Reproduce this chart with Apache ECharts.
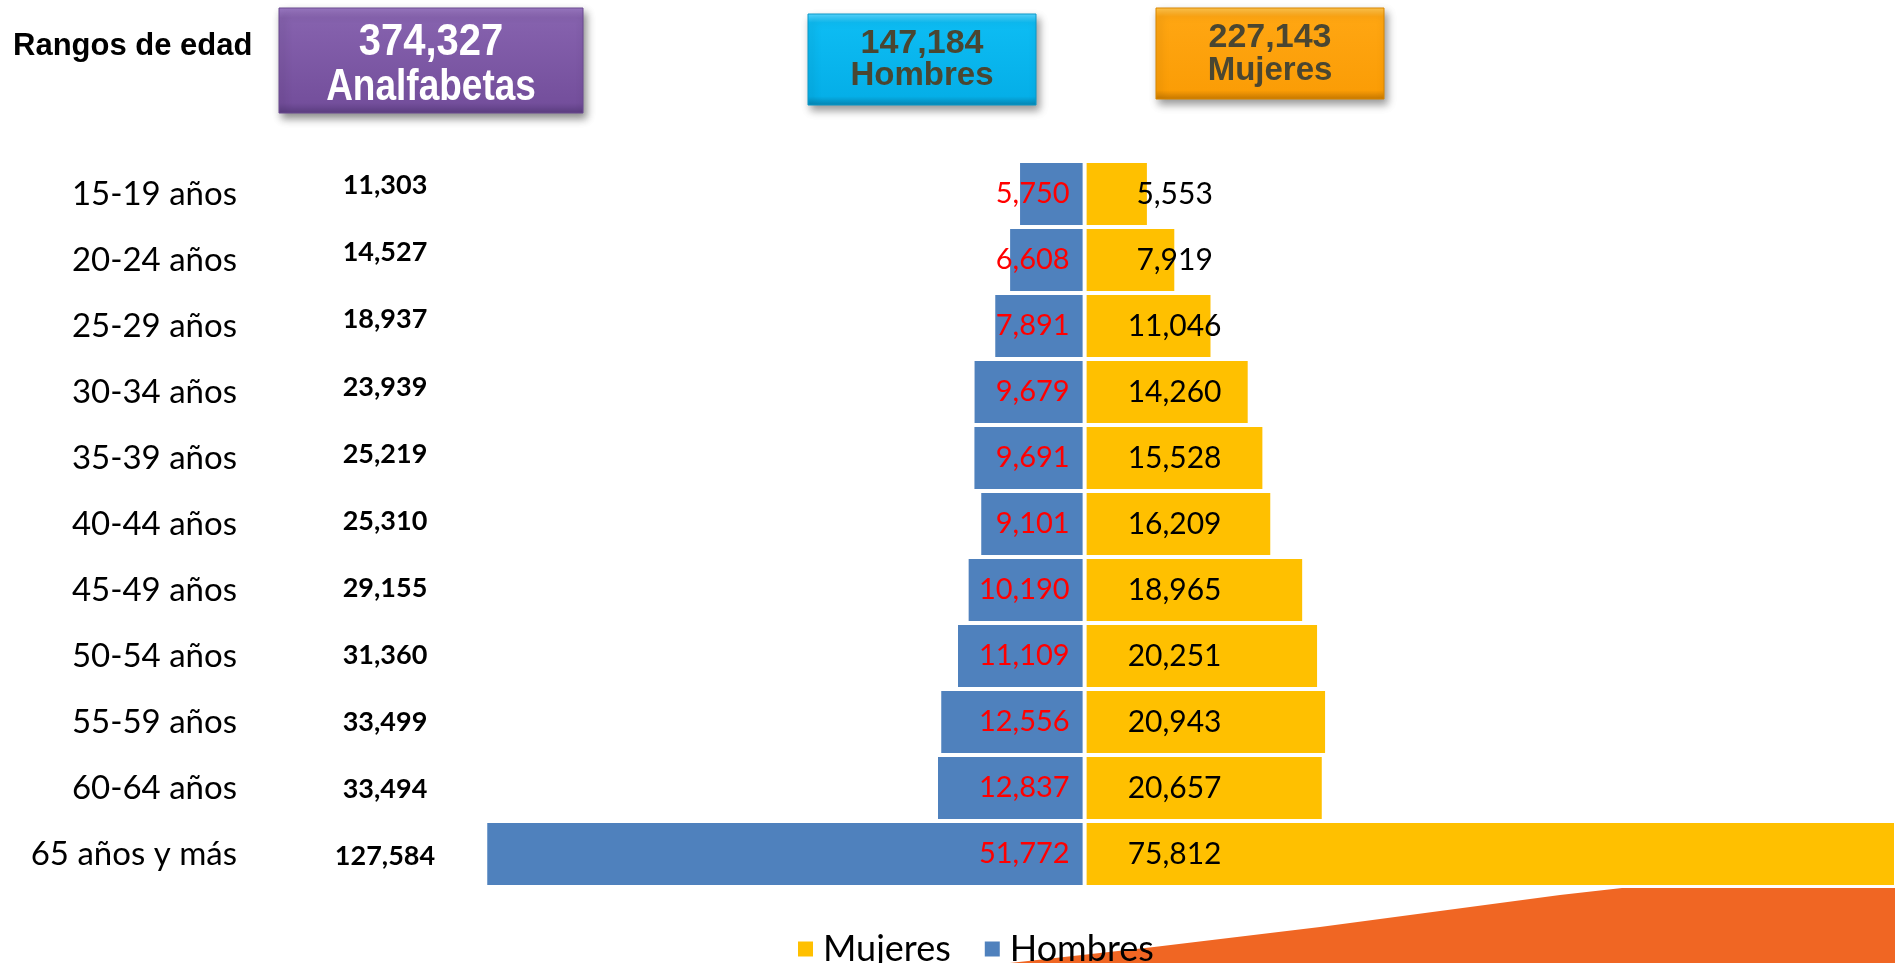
<!DOCTYPE html>
<html>
<head>
<meta charset="utf-8">
<title>Analfabetas por rangos de edad</title>
<script src="https://cdn.jsdelivr.net/npm/echarts@6/dist/echarts.min.js"></script>
<style>
  html, body { margin: 0; padding: 0; background: #fff; }
  #container { width: 1895px; height: 963px; }
</style>
</head>
<body>
<div id="container"></div>
<script>
// rangos de edad (eje Y)
var edades = ['15-19 años', '20-24 años', '25-29 años', '30-34 años', '35-39 años', '40-44 años',
              '45-49 años', '50-54 años', '55-59 años', '60-64 años', '65 años y más'];
// total analfabetas por rango
var totales = [11303, 14527, 18937, 23939, 25219, 25310, 29155, 31360, 33499, 33494, 127584];
// hombres (se dibujan hacia la izquierda)
var hombres = [5750, 6608, 7891, 9679, 9691, 9101, 10190, 11109, 12556, 12837, 51772];
// mujeres
var mujeres = [5553, 7919, 11046, 14260, 15528, 16209, 18965, 20251, 20943, 20657, 75812];
// cifras de los recuadros de arriba: total, hombres, mujeres
var resumen = [374327, 147184, 227143];

function fmt(v) {
    return Math.abs(v).toLocaleString('en-US');
}

var dom = document.getElementById('container');
var myChart = echarts.init(dom);
var font = 'Lato';
var option = {
    animation: false,
    backgroundColor: '#fff',
    grid: [
        // barras (y etiquetas de edad)
        {left: 390, top: 161, width: 1508, height: 726},
        // columna de totales
        {left: 390, top: 152, width: 100, height: 738}
    ],
    xAxis: [
        {gridIndex: 0, type: 'value', min: -60000, max: 70000, show: false},
        {gridIndex: 1, type: 'value', show: false}
    ],
    yAxis: [
        {
            gridIndex: 0, type: 'category', inverse: true, data: edades, position: 'left',
            axisLine: {show: false}, axisTick: {show: false}, splitLine: {show: false},
            axisLabel: {margin: 153, align: 'right', fontFamily: font, fontSize: 33, color: '#000'}
        },
        {
            gridIndex: 1, type: 'category', inverse: true, data: totales, position: 'left',
            axisLine: {show: false}, axisTick: {show: false}, splitLine: {show: false},
            axisLabel: {
                margin: 5, align: 'center', fontFamily: font, fontSize: 27, fontWeight: 'bold', color: '#000',
                formatter: function (v) { return fmt(Number(v)); }
            }
        }
    ],
    legend: {
        data: ['Mujeres', 'Hombres'],
        left: 791, top: 926,
        icon: 'rect', itemWidth: 17, itemHeight: 17, itemGap: 32,
        textStyle: {fontFamily: font, fontSize: 36, color: '#000', padding: [0, 0, 0, 4]}
    },
    series: [
        {
            name: 'Hombres', type: 'bar', stack: 'pir', xAxisIndex: 0, yAxisIndex: 0,
            data: hombres.map(function (v) { return -v; }),
            barCategoryGap: 0,
            itemStyle: {color: '#4f81bd', borderColor: '#fff', borderWidth: 2},
            label: {
                show: true, position: 'insideRight', distance: 15,
                fontFamily: font, fontSize: 29, color: '#ff0000',
                formatter: function (p) { return fmt(p.value); }
            }
        },
        {
            name: 'Mujeres', type: 'bar', stack: 'pir', xAxisIndex: 0, yAxisIndex: 0,
            data: mujeres,
            barCategoryGap: 0,
            itemStyle: {color: '#ffc000', borderColor: '#fff', borderWidth: 2},
            label: {
                show: true, position: 'insideLeft', distance: 90, align: 'center',
                fontFamily: font, fontSize: 30, color: '#000',
                formatter: function (p) { return fmt(p.value); }
            }
        }
    ],
    graphic: [
        // forma naranja de fondo abajo a la derecha
        {
            type: 'polygon', z: 0, silent: true,
            shape: {points: [[1010, 963], [1154, 947], [1320, 927], [1560, 895], [1622, 888], [1895, 888], [1895, 963]]},
            style: {fill: '#f06623'}
        },
        {
            type: 'text', z: 10,
            style: {text: 'Rangos de edad', x: 13, y: 46, textVerticalAlign: 'middle',
                    font: 'bold 31px "Liberation Sans", Arial', fill: '#000'}
        },
        // recuadro morado
        {
            type: 'rect', z: 10,
            shape: {x: 279, y: 8, width: 304, height: 105},
            style: {
                fill: {type: 'linear', x: 0, y: 0, x2: 0, y2: 1, colorStops: [
                    {offset: 0, color: '#9c7ac4'}, {offset: 0.1, color: '#8662ae'},
                    {offset: 0.9, color: '#744f9c'}, {offset: 1, color: '#5b3d80'}]},
                stroke: '#6a4a90', lineWidth: 1,
                shadowBlur: 8, shadowOffsetX: 3, shadowOffsetY: 5, shadowColor: 'rgba(0,0,0,0.45)'
            }
        },
        {
            type: 'text', z: 11, x: 431, y: 43, scaleY: 1.1,
            style: {text: fmt(resumen[0]), textAlign: 'center', textVerticalAlign: 'middle',
                    font: 'bold 40px "Liberation Sans", Arial', fill: '#fff'}
        },
        {
            type: 'text', z: 11, x: 431, y: 88, scaleY: 1.2,
            style: {text: 'Analfabetas', textAlign: 'center', textVerticalAlign: 'middle',
                    font: 'bold 37px "Liberation Sans", Arial', fill: '#fff'}
        },
        // recuadro azul
        {
            type: 'rect', z: 10,
            shape: {x: 808, y: 14, width: 228, height: 91},
            style: {
                fill: {type: 'linear', x: 0, y: 0, x2: 0, y2: 1, colorStops: [
                    {offset: 0, color: '#5ad6ff'}, {offset: 0.1, color: '#0dbcf3'},
                    {offset: 0.9, color: '#05afe8'}, {offset: 1, color: '#0685b2'}]},
                stroke: '#0a98c8', lineWidth: 1,
                shadowBlur: 8, shadowOffsetX: 3, shadowOffsetY: 5, shadowColor: 'rgba(0,0,0,0.4)'
            }
        },
        {
            type: 'text', z: 11, x: 922, y: 44,
            style: {text: fmt(resumen[1]), textAlign: 'center', textVerticalAlign: 'middle',
                    font: 'bold 34px "Liberation Sans", Arial', fill: '#4a4631'}
        },
        {
            type: 'text', z: 11, x: 922, y: 76,
            style: {text: 'Hombres', textAlign: 'center', textVerticalAlign: 'middle',
                    font: 'bold 33px "Liberation Sans", Arial', fill: '#4a4631'}
        },
        // recuadro naranja
        {
            type: 'rect', z: 10,
            shape: {x: 1156, y: 8, width: 228, height: 91},
            style: {
                fill: {type: 'linear', x: 0, y: 0, x2: 0, y2: 1, colorStops: [
                    {offset: 0, color: '#ffc650'}, {offset: 0.1, color: '#ffa612'},
                    {offset: 0.9, color: '#fb9d06'}, {offset: 1, color: '#c67800'}]},
                stroke: '#d88600', lineWidth: 1,
                shadowBlur: 8, shadowOffsetX: 3, shadowOffsetY: 5, shadowColor: 'rgba(0,0,0,0.4)'
            }
        },
        {
            type: 'text', z: 11, x: 1270, y: 38,
            style: {text: fmt(resumen[2]), textAlign: 'center', textVerticalAlign: 'middle',
                    font: 'bold 34px "Liberation Sans", Arial', fill: '#4a4631'}
        },
        {
            type: 'text', z: 11, x: 1270, y: 71,
            style: {text: 'Mujeres', textAlign: 'center', textVerticalAlign: 'middle',
                    font: 'bold 33px "Liberation Sans", Arial', fill: '#4a4631'}
        }
    ]
};
myChart.setOption(option);
</script>
</body>
</html>
